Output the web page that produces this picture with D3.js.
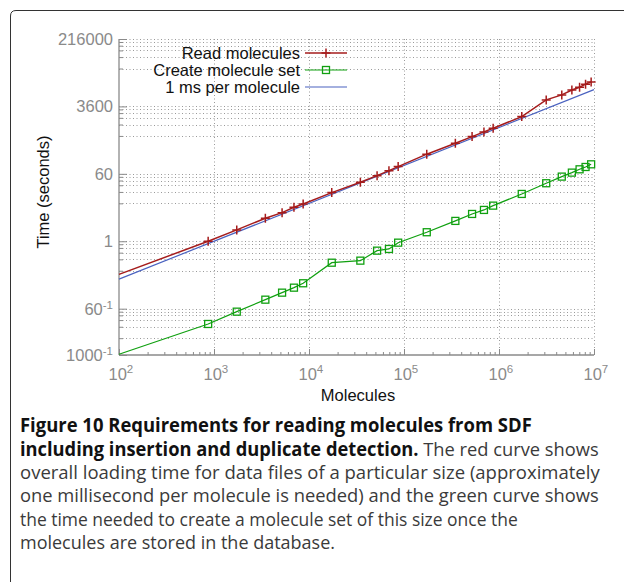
<!DOCTYPE html>
<html><head><meta charset="utf-8">
<script src="https://cdn.jsdelivr.net/npm/d3@7"></script>
<style>
html,body{margin:0;padding:0;background:#fff;}
svg{display:block;}
</style></head>
<body>
<script>
// ---- data ----
const molecules = [100, 868, 1736, 3472, 5208, 6944, 8680, 17360, 34720, 52080, 69440, 86800,
  173600, 347200, 520800, 694400, 868000, 1736000, 3140000, 4580000, 5850000, 7050000, 8150000, 9330000];
const readTimes = [0.134, 1.0, 1.99, 4.05, 5.69, 7.89, 9.64, 19.2, 36, 53.8, 72.9, 93,
  198, 385, 575, 766, 956, 1940, 5350, 7250, 9770, 11560, 13900, 15960];
const createTimes = [0.00105, 0.00658, 0.0139, 0.0288, 0.0441, 0.0597, 0.078, 0.272, 0.308, 0.565, 0.626, 0.918,
  1.73, 3.44, 5.25, 6.7, 8.7, 17.7, 33.9, 50.7, 64.6, 79, 91, 107];
const refLineX = [100, 10000000];
const refLineY = [0.1, 10000];          // 1 ms per molecule
const seriesNames = ["Read molecules", "Create molecule set", "1 ms per molecule"];
const yTickValues = [0.001, 1/60, 1, 60, 3600, 216000];
const yTickLabels = [["1000","-1"], ["60","-1"], ["1",""], ["60",""], ["3600",""], ["216000",""]];
const yMinorBases = [1/3600, 1/60, 1, 60, 3600];
const yMinorMults = [10, 20, 30, 40, 50];
const xTickExps = [2, 3, 4, 5, 6, 7];
const xLabel = "Molecules";
const yLabel = "Time (seconds)";
const captionLines = [
  [["b","Figure 10 Requirements for reading molecules from SDF"]],
  [["b","including insertion and duplicate detection."],["r"," The red curve shows"]],
  [["r","overall loading time for data files of a particular size (approximately"]],
  [["r","one millisecond per molecule is needed) and the green curve shows"]],
  [["r","the time needed to create a molecule set of this size once the"]],
  [["r","molecules are stored in the database."]]
];

// ---- layout ----
const W = 624, H = 582;
const svg = d3.select("body").append("svg").attr("width", W).attr("height", H);
const FONT = "'Liberation Sans', Arial, Helvetica, sans-serif";
const FS = 16.5;

// frame
svg.append("path").attr("d", "M10.5,582 V16 Q10.5,10.5 16,10.5 H624")
  .attr("fill","none").attr("stroke","#333").attr("stroke-width",1);

const x = d3.scaleLog().domain([100, 1e7]).range([119, 594]);
const y = d3.scaleLog().domain([0.001, 216000]).range([355, 39]);
const axisCol = "#8a8a8a", gridCol = "#9a9a9a";

const g = svg.append("g");

// minor y values
const yMinor = [];
yMinorBases.forEach(b => yMinorMults.forEach(m => { const v = b*m; if (v > 0.001 && v < 216000) yMinor.push(v); }));

// grids
const grid = g.append("g").attr("stroke", gridCol).attr("stroke-width", 1).attr("stroke-dasharray", "1,2.5").attr("fill","none");
yTickValues.concat(yMinor).forEach(v => {
  if (v <= 0.001) return;
  const yy = Math.round(y(v)) + 0.5;
  grid.append("line").attr("x1", x(100)).attr("x2", x(1e7)).attr("y1", yy).attr("y2", yy);
});
xTickExps.slice(1).forEach(e => {
  const xx = Math.round(x(Math.pow(10,e))) + 0.5;
  grid.append("line").attr("x1", xx).attr("x2", xx).attr("y1", y(0.001)).attr("y2", y(216000));
});

// axes via d3
const xMinorVals = [];
for (let e = 2; e < 7; e++) for (let k = 2; k <= 9; k++) xMinorVals.push(k*Math.pow(10,e));
const xAxisMajor = d3.axisTop(x).tickValues(xTickExps.map(e => Math.pow(10,e))).tickSize(6).tickFormat("");
const xAxisMinor = d3.axisTop(x).tickValues(xMinorVals).tickSize(3).tickFormat("");
const yAxisMajor = d3.axisRight(y).tickValues(yTickValues).tickSize(8).tickFormat("");
const yAxisMinor = d3.axisRight(y).tickValues(yMinor).tickSize(4).tickFormat("");

function styleAxis(sel){
  sel.selectAll("path").attr("stroke", axisCol).attr("stroke-width",1.2);
  sel.selectAll("line").attr("stroke", axisCol).attr("stroke-width",1);
}
const gx = g.append("g").attr("transform", `translate(0,${y(0.001)})`);
gx.append("g").call(xAxisMajor).call(styleAxis);
gx.append("g").call(xAxisMinor).call(styleAxis).select(".domain").remove();
const gy = g.append("g").attr("transform", `translate(${x(100)},0)`);
gy.append("g").call(yAxisMajor).call(styleAxis);
gy.append("g").call(yAxisMinor).call(styleAxis).select(".domain").remove();
g.selectAll(".domain").attr("d", null);
// axis lines
g.append("line").attr("x1", x(100)).attr("x2", x(1e7)).attr("y1", y(0.001)).attr("y2", y(0.001)).attr("stroke", axisCol).attr("stroke-width",1.3);
g.append("line").attr("x1", x(100)).attr("x2", x(100)).attr("y1", y(0.001)).attr("y2", y(216000)).attr("stroke", axisCol).attr("stroke-width",1.3);

// tick labels
const yl = g.append("g").attr("font-family", FONT).attr("font-size", FS).attr("fill", "#8a8a8a").attr("text-anchor","end");
yTickValues.forEach((v,i) => {
  const t = yl.append("text").attr("x", 113).attr("y", y(v) + 6);
  const [base, sup] = yTickLabels[i];
  if (sup) {
    t.append("tspan").text(base);
    t.append("tspan").attr("font-size", 11.5).attr("dy", -6).text(sup);
  } else t.text(base);
});
const xl = g.append("g").attr("font-family", FONT).attr("font-size", FS).attr("fill", "#8a8a8a");
xTickExps.forEach(e => {
  const t = xl.append("text").attr("x", x(Math.pow(10,e)) - 10.5).attr("y", 380);
  t.append("tspan").text("10");
  t.append("tspan").attr("font-size", 11.5).attr("dy", -7).text(String(e));
});

// axis titles
svg.append("text").attr("font-family", FONT).attr("font-size", FS).attr("fill","#111")
  .attr("text-anchor","middle").attr("transform", "translate(49,192) rotate(-90)").text(yLabel);
svg.append("text").attr("font-family", FONT).attr("font-size", FS).attr("fill","#111")
  .attr("text-anchor","middle").attr("x", 358).attr("y", 401).text(xLabel);

// series
const redCol = "#a51c1c", greenCol = "#10a010", blueCol = "#4a62c0";
const line = d3.line().x(d => x(d[0])).y(d => y(d[1]));
const redData = molecules.map((m,i) => [m, readTimes[i]]);
const greenData = molecules.map((m,i) => [m, createTimes[i]]);
const blueData = refLineX.map((m,i) => [m, refLineY[i]]);

g.append("path").datum(blueData).attr("d", line).attr("fill","none").attr("stroke", blueCol).attr("stroke-width", 1.2);
g.append("path").datum(redData).attr("d", line).attr("fill","none").attr("stroke", redCol).attr("stroke-width", 1.5);
g.append("path").datum(greenData).attr("d", line).attr("fill","none").attr("stroke", greenCol).attr("stroke-width", 1.2);

const inside = d => d[0] > 100;
function plus(sel, cx, cy){
  sel.append("path").attr("d", `M${cx-4.5},${cy} H${cx+4.5} M${cx},${cy-4.5} V${cy+4.5}`)
    .attr("stroke", redCol).attr("stroke-width", 1.5).attr("fill","none");
}
function square(sel, cx, cy){
  sel.append("rect").attr("x", cx-3.5).attr("y", cy-3.5).attr("width",7).attr("height",7)
    .attr("stroke", greenCol).attr("stroke-width", 1.3).attr("fill","none");
}
const mk = g.append("g");
redData.filter(inside).forEach(d => plus(mk, x(d[0]), y(d[1])));
greenData.filter(inside).forEach(d => square(mk, x(d[0]), y(d[1])));

// legend
const lg = svg.append("g").attr("font-family", FONT).attr("font-size", FS).attr("fill","#111");
const rows = [53, 70, 87];
const cols = [redCol, greenCol, blueCol];
seriesNames.forEach((n,i) => {
  lg.append("text").attr("x", 300).attr("y", rows[i] + 6).attr("text-anchor","end").text(n);
  lg.append("line").attr("x1", 305).attr("x2", 347).attr("y1", rows[i]).attr("y2", rows[i])
    .attr("stroke", cols[i]).attr("stroke-width", i===0 ? 1.5 : 1.2);
});
plus(lg, 326, rows[0]);
square(lg, 326, rows[1]);

// caption
const CF = "'Open Sans', 'Noto Sans', sans-serif";
const baselines = [432, 455.5, 479, 502, 525.5, 549];
const targetEnds = [532, 599, 600, 599, 518, 335];
captionLines.forEach((parts, i) => {
  const gg = svg.append("g");
  const t = gg.append("text").attr("font-family", CF).attr("font-size", 19).attr("x", 0).attr("y", 0);
  parts.forEach(([s, txt]) => {
    t.append("tspan").attr("font-weight", s === "b" ? 700 : 400)
      .attr("fill", s === "b" ? "#111" : "#3a3a3a").text(txt);
  });
  t.style("white-space","pre");
  const w = t.node().getComputedTextLength();
  const sx = (targetEnds[i] - 20) / w;
  gg.attr("transform", `translate(20,${baselines[i]}) scale(${sx},1)`);
});
</script>
</body></html>
